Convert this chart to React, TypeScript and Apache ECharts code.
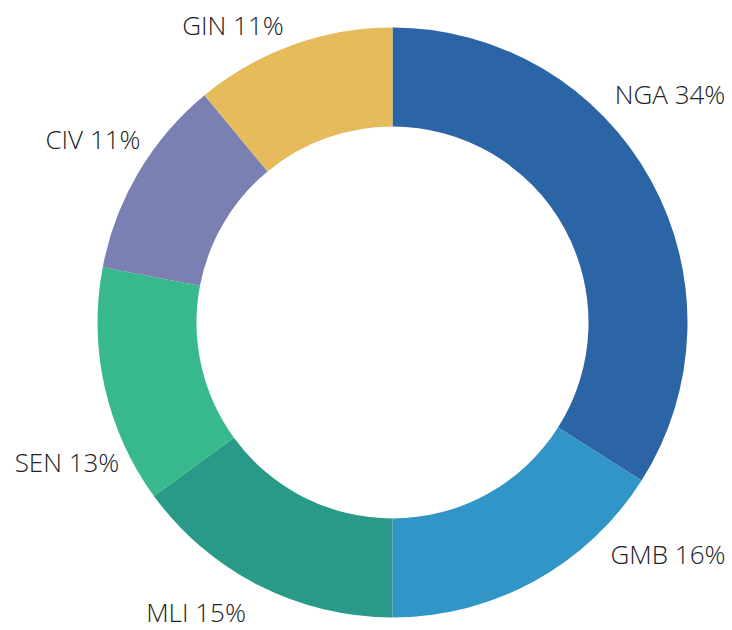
import React, { useEffect, useRef } from "react";
import * as echarts from "echarts";

const categories = ["NGA", "GMB", "MLI", "SEN", "CIV", "GIN"];
const shares = [34, 16, 15, 13, 11, 11];
const colors = ["#2c65a6", "#3295c7", "#2a9a88", "#37b98c", "#7a80b1", "#e5bb5b"];
// label centre positions (styling)
const labelCentres: [number, number][] = [
  [670, 94],
  [668, 554],
  [196, 612],
  [67, 462],
  [93, 139],
  [233, 25],
];

export default function App() {
  const ref = useRef<HTMLDivElement>(null);
  useEffect(() => {
    document.body.style.margin = "0";
    const chart = echarts.init(ref.current!, null, { renderer: "svg" });
    chart.setOption({
      animation: false,
      backgroundColor: "#ffffff",
      series: [
        {
          type: "pie",
          center: [392.5, 322.5],
          radius: [196, 295],
          startAngle: 90,
          clockwise: true,
          avoidLabelOverlap: false,
          data: categories.map((c, i) => ({
            name: c,
            value: shares[i],
            itemStyle: { color: colors[i] },
          })),
          label: {
            show: true,
            position: "outside",
            formatter: "{b} {c}%",
            fontFamily: "'Open Sans', sans-serif",
            fontWeight: 300,
            fontSize: 26,
            lineHeight: 28,
            color: "#222222",
          },
          labelLine: { show: false },
          labelLayout: (p: any) => ({
            x: labelCentres[p.dataIndex][0],
            y: labelCentres[p.dataIndex][1],
            align: "center",
            verticalAlign: "middle",
          }),
          emphasis: { disabled: true },
        },
      ],
    });
    return () => chart.dispose();
  }, []);
  return <div ref={ref} style={{ width: 732, height: 630 }} />;
}
